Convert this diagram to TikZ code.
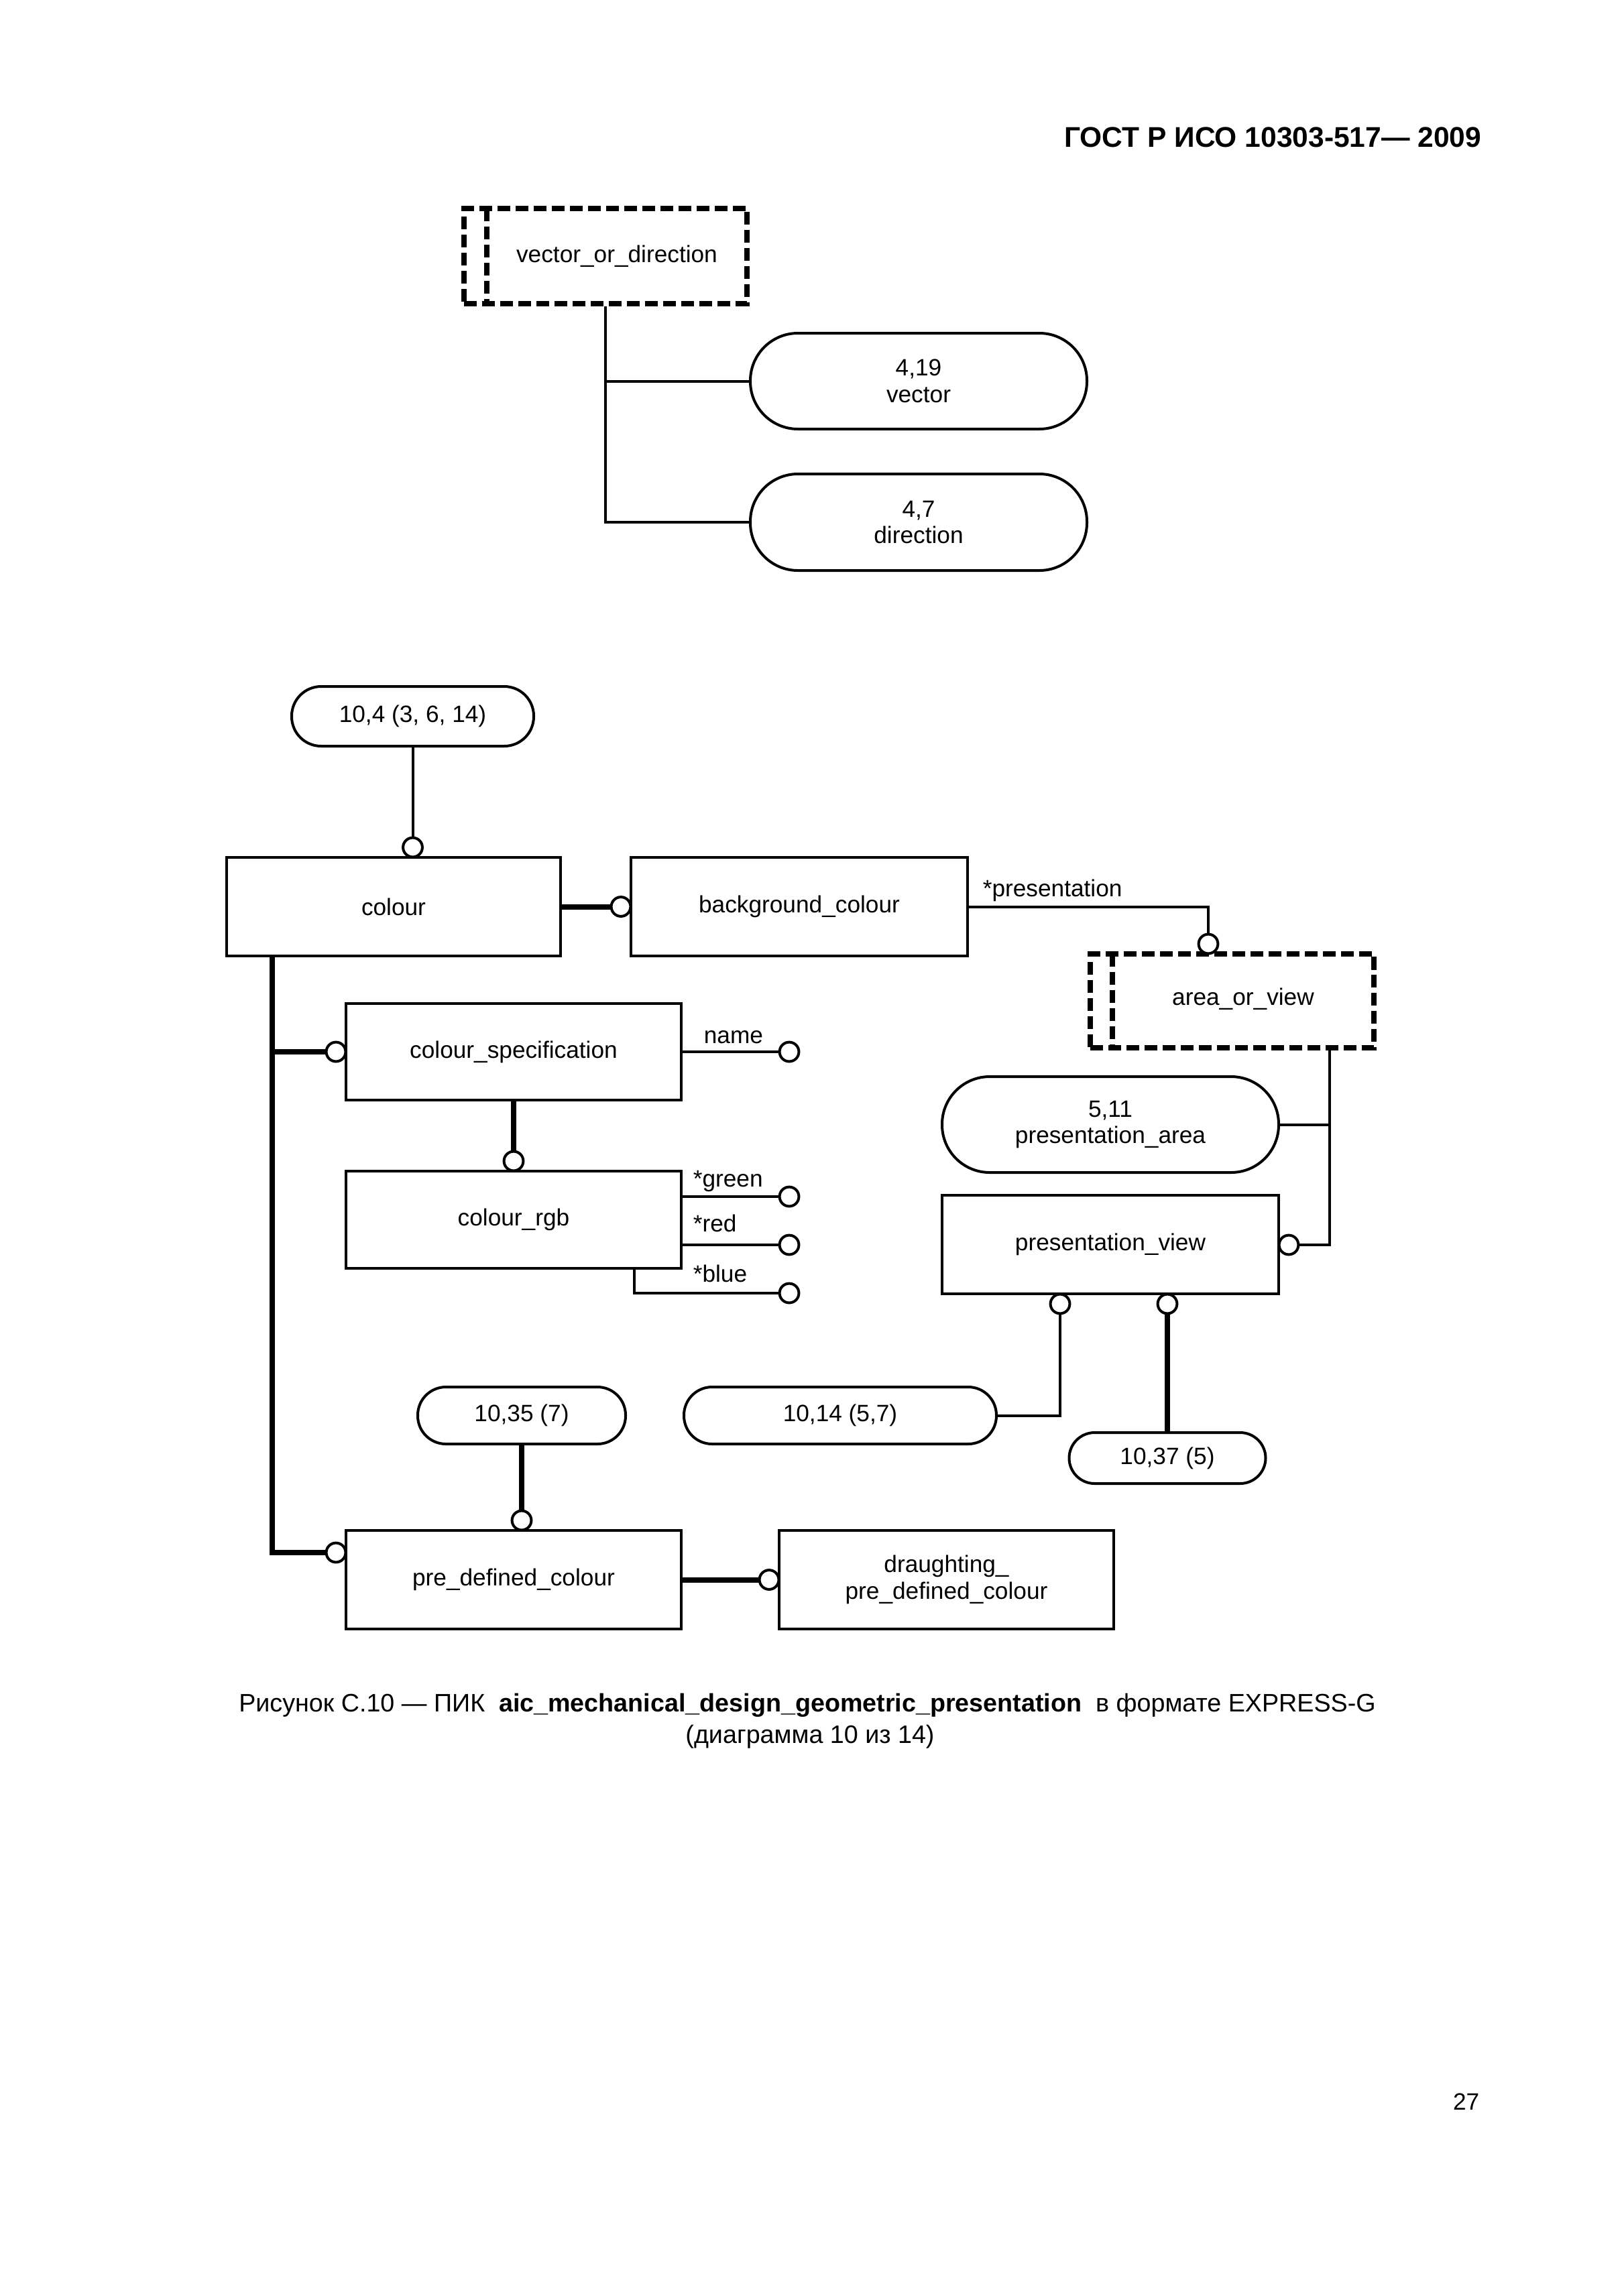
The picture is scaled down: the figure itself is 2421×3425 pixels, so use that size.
\documentclass[tikz,border=0pt]{standalone}
\usepackage{fontspec}
\setmainfont{Liberation Sans}
\newlength\px
\setlength\px{0.08674mm}
\newcommand\dfont{\fontsize{8.7}{9.8}\selectfont}
\begin{document}
\begin{tikzpicture}[x=\px,y=-\px,
  ln/.style={line width=0.347mm},
  lnb/.style={line width=0.694mm},
  ent/.style={draw, line width=0.347mm, inner sep=0pt, align=center, font=\dfont},
  pill/.style={ent, rounded corners=#1*\px},
  sel/.style={draw, line width=0.694mm, dash pattern=on 1.65mm off 0.69mm, inner sep=0pt},
  seline/.style={line width=0.694mm, dash pattern=on 1.65mm off 0.69mm},
  ring/.style={circle, draw, line width=0.347mm, minimum size=2.5mm, inner sep=0pt, fill=white},
  lbl/.style={inner sep=0pt, font=\dfont}
]
\fill[white] (0,0) rectangle (2421,3425);
\useasboundingbox (0,0) rectangle (2421,3425);

% header
\node[anchor=base east, inner sep=0pt, font=\fontsize{10.5}{12}\selectfont\bfseries] (hdr) at (2210,219) {ГОСТ Р ИСО 10303-517— 2009};

% ---------- top diagram ----------
\node[sel, minimum width=422*\px, minimum height=142*\px] (vod) at (903,382) {};
\draw[seline] (726,311) -- (726,453);
\node[lbl] (vodt) at (920,382) {vector\_or\_direction};
\node[pill=71, minimum width=502*\px, minimum height=143*\px] (vector) at (1370,568.5) {4,19\\vector};
\node[pill=71, minimum width=502*\px, minimum height=144*\px] (direction) at (1370,779) {4,7\\direction};
\draw[ln] (vod.south) |- (direction.west);
\draw[ln] (vod.south |- vector.west) -- (vector.west);

% ---------- bottom diagram ----------
\node[pill=44, minimum width=361*\px, minimum height=89*\px] (p104) at (615.5,1068.5) {10,4 (3, 6, 14)};
\node[ent, minimum width=498*\px, minimum height=147*\px] (colour) at (587,1352.5) {colour};
\node[ent, minimum width=502*\px, minimum height=147*\px] (bg) at (1192,1352.5) {background\_colour};
\node[sel, minimum width=423*\px, minimum height=140*\px] (aov) at (1837.5,1493) {};
\draw[seline] (1659,1423) -- (1659,1563);
\node[lbl] (aovt) at (1854,1490) {area\_or\_view};
\node[pill=71, minimum width=502*\px, minimum height=143*\px] (parea) at (1656,1677.5) {5,11\\presentation\_area};
\node[ent, minimum width=502*\px, minimum height=147*\px] (pview) at (1656,1856.5) {presentation\_view};
\node[pill=42, minimum width=466*\px, minimum height=85*\px] (p1014) at (1253,2111.5) {10,14 (5,7)};
\node[pill=38, minimum width=293*\px, minimum height=76*\px] (p1037) at (1741,2175) {10,37 (5)};
\node[pill=42, minimum width=310*\px, minimum height=85*\px] (p1035) at (778,2111.5) {10,35 (7)};
\node[ent, minimum width=500*\px, minimum height=144*\px] (cspec) at (766,1569) {colour\_specification};
\node[ent, minimum width=500*\px, minimum height=145*\px] (crgb) at (766,1819.5) {colour\_rgb};
\node[ent, minimum width=500*\px, minimum height=147*\px] (pdc) at (766,2356.5) {pre\_defined\_colour};
\node[ent, minimum width=499*\px, minimum height=147*\px] (dpdc) at (1411.5,2356.5) {draughting\_\\pre\_defined\_colour};

% rings
\node[ring] (c1) at (615.5,1264) {};
\node[ring] (c2) at (926,1352.5) {};
\node[ring] (c3) at (1802,1408) {};
\node[ring] (c4) at (1922,1857) {};
\node[ring] (c5) at (1581,1945) {};
\node[ring] (c6) at (1741,1945) {};
\node[ring] (c7) at (778,2268) {};
\node[ring] (c8) at (1147,2356.5) {};
\node[ring] (c9) at (501,2316) {};
\node[ring] (c10) at (501,1569) {};
\node[ring] (c11) at (1177,1569) {};
\node[ring] (c12) at (766,1732) {};
\node[ring] (c13) at (1177,1785) {};
\node[ring] (c14) at (1177,1857) {};
\node[ring] (c15) at (1177,1929) {};

% labels
\node[lbl, anchor=base west] (lpres) at (1465,1337) {*presentation};
\node[lbl, anchor=base west] (lname) at (1049,1556) {name};
\node[lbl, anchor=base west] (lgreen) at (1033,1770) {*green};
\node[lbl, anchor=base west] (lred) at (1033,1837) {*red};
\node[lbl, anchor=base west] (lblue) at (1033,1912) {*blue};

% connectors
\coordinate (j1) at (1983,1563);
\coordinate (j2) at (406,1426);
\coordinate (j3) at (946,1892);
\draw[ln] (p104.south) -- (c1.north);
\draw[lnb] (colour.east) -- (c2.west);
\draw[ln] (bg.east) -| (c3.north);
\draw[ln] (j1) |- (c4.east);
\draw[ln] (parea.east) -- (parea.east -| j1);
\draw[ln] (c5.south) |- (p1014.east);
\draw[lnb] (c6.south) -- (p1037.north);
\draw[lnb] (p1035.south) -- (c7.north);
\draw[lnb] (pdc.east) -- (c8.west);
\draw[lnb] (j2) |- (c9.west);
\draw[lnb] (j2 |- c10) -- (c10.west);
\draw[ln] (cspec.east) -- (c11.west);
\draw[lnb] (cspec.south) -- (c12.north);
\draw[ln] (c13.west -| crgb.east) -- (c13.west);
\draw[ln] (c14.west -| crgb.east) -- (c14.west);
\draw[ln] (j3) |- (c15.west);

% caption
\node[anchor=base, inner sep=0pt, font=\fontsize{9.3}{10.5}\selectfont] (cap1) at (1204,2553) {Рисунок С.10 — ПИК\ \ \textbf{aic\_mechanical\_design\_geometric\_presentation}\ \ в формате EXPRESS-G};
\node[anchor=base, inner sep=0pt, font=\fontsize{9.3}{10.5}\selectfont] (cap2) at (1208,2600) {(диаграмма\ 10\ из\ 14)};

% page number
\node[anchor=base east, inner sep=0pt, font=\dfont] (pg) at (2207,3147) {27};
\end{tikzpicture}
\end{document}
